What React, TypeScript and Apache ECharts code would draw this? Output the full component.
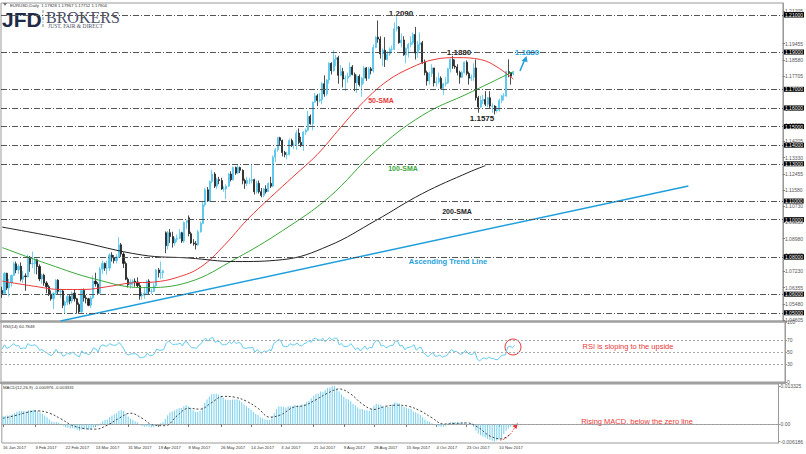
import React, { useEffect, useRef } from "react";
import * as echarts from "echarts";

const N_SLOTS = 335;
const TICK_INDEX = [0, 14, 27, 40, 54, 67, 80, 94, 107, 120, 134, 147, 160, 174, 187, 200, 214];
const TICK_LABELS = [
  "16 Jan 2017", "3 Feb 2017", "22 Feb 2017", "13 Mar 2017", "31 Mar 2017", "19 Apr 2017",
  "8 May 2017", "26 May 2017", "14 Jun 2017", "3 Jul 2017", "21 Jul 2017", "9 Aug 2017",
  "28 Aug 2017", "15 Sep 2017", "4 Oct 2017", "23 Oct 2017", "10 Nov 2017",
];

// [open, close, low, high]
const CANDLES: number[][] = [
  [1.0620,1.0603,1.0580,1.0640],[1.0603,1.0712,1.0600,1.0718],[1.0712,1.0633,1.0622,1.0715],[1.0633,1.0661,1.0587,1.0683],[1.0661,1.0700,1.0640,1.0706],
  [1.0700,1.0763,1.0698,1.0774],[1.0763,1.0730,1.0712,1.0775],[1.0730,1.0750,1.0708,1.0760],[1.0750,1.0680,1.0668,1.0770],[1.0680,1.0698,1.0660,1.0725],
  [1.0698,1.0694,1.0618,1.0712],[1.0694,1.0798,1.0690,1.0812],[1.0798,1.0763,1.0720,1.0805],[1.0763,1.0764,1.0740,1.0829],[1.0764,1.0785,1.0710,1.0800],
  [1.0785,1.0749,1.0706,1.0790],[1.0749,1.0682,1.0670,1.0760],[1.0682,1.0702,1.0655,1.0710],[1.0702,1.0660,1.0645,1.0710],[1.0660,1.0640,1.0605,1.0670],
  [1.0640,1.0600,1.0590,1.0650],[1.0600,1.0575,1.0565,1.0620],[1.0575,1.0605,1.0520,1.0610],[1.0605,1.0675,1.0595,1.0680],[1.0675,1.0615,1.0600,1.0680],
  [1.0615,1.0617,1.0580,1.0630],[1.0617,1.0540,1.0525,1.0625],[1.0540,1.0557,1.0494,1.0565],[1.0557,1.0587,1.0540,1.0600],[1.0587,1.0563,1.0545,1.0600],
  [1.0563,1.0605,1.0550,1.0615],[1.0605,1.0575,1.0560,1.0625],[1.0575,1.0545,1.0495,1.0580],[1.0545,1.0505,1.0495,1.0555],[1.0505,1.0620,1.0500,1.0630],
  [1.0620,1.0580,1.0560,1.0630],[1.0580,1.0575,1.0550,1.0595],[1.0575,1.0540,1.0535,1.0580],[1.0540,1.0580,1.0525,1.0590],[1.0580,1.0670,1.0575,1.0700],
  [1.0670,1.0655,1.0640,1.0715],[1.0655,1.0605,1.0600,1.0665],[1.0605,1.0735,1.0600,1.0745],[1.0735,1.0765,1.0710,1.0780],[1.0765,1.0740,1.0725,1.0770],
  [1.0740,1.0740,1.0705,1.0780],[1.0740,1.0810,1.0725,1.0820],[1.0810,1.0795,1.0775,1.0825],[1.0795,1.0780,1.0765,1.0810],[1.0780,1.0800,1.0765,1.0815],
  [1.0800,1.0865,1.0795,1.0906],[1.0865,1.0815,1.0800,1.0875],[1.0815,1.0765,1.0740,1.0825],[1.0765,1.0680,1.0675,1.0775],[1.0680,1.0650,1.0635,1.0690],
  [1.0650,1.0665,1.0630,1.0680],[1.0665,1.0670,1.0645,1.0680],[1.0670,1.0665,1.0640,1.0685],[1.0665,1.0645,1.0635,1.0690],[1.0645,1.0590,1.0570,1.0660],
  [1.0590,1.0595,1.0570,1.0610],[1.0595,1.0605,1.0575,1.0640],[1.0605,1.0670,1.0600,1.0675],[1.0670,1.0615,1.0600,1.0680],[1.0615,1.0615,1.0600,1.0630],
  [1.0615,1.0645,1.0610,1.0660],[1.0645,1.0730,1.0640,1.0735],[1.0730,1.0715,1.0690,1.0740],[1.0715,1.0715,1.0680,1.0775],[1.0715,1.0725,1.0685,1.0730],
  [1.0930,1.0860,1.0820,1.0937],[1.0860,1.0930,1.0840,1.0940],[1.0930,1.0910,1.0875,1.0950],[1.0910,1.0875,1.0850,1.0935],[1.0875,1.0895,1.0860,1.0905],
  [1.0895,1.0900,1.0880,1.0920],[1.0900,1.0930,1.0895,1.0950],[1.0930,1.0885,1.0875,1.0935],[1.0885,1.0985,1.0875,1.0990],[1.0985,1.0995,1.0950,1.0995],
  [1.1010,1.0925,1.0910,1.1023],[1.0925,1.0875,1.0870,1.0935],[1.0875,1.0870,1.0860,1.0895],[1.0870,1.0865,1.0840,1.0885],[1.0865,1.0935,1.0860,1.0945],
  [1.0935,1.0980,1.0930,1.0990],[1.0980,1.1080,1.0975,1.1100],[1.1080,1.1160,1.1070,1.1170],[1.1160,1.1100,1.1095,1.1175],[1.1100,1.1205,1.1095,1.1210],
  [1.1205,1.1245,1.1195,1.1268],[1.1245,1.1180,1.1170,1.1255],[1.1180,1.1215,1.1165,1.1225],[1.1215,1.1210,1.1190,1.1230],[1.1210,1.1165,1.1160,1.1225],
  [1.1165,1.1165,1.1150,1.1180],[1.1165,1.1180,1.1110,1.1190],[1.1180,1.1245,1.1175,1.1250],[1.1245,1.1215,1.1205,1.1260],[1.1215,1.1280,1.1210,1.1285],
  [1.1280,1.1250,1.1240,1.1285],[1.1250,1.1280,1.1245,1.1295],[1.1280,1.1265,1.1250,1.1285],[1.1265,1.1210,1.1190,1.1270],[1.1210,1.1195,1.1165,1.1220],
  [1.1195,1.1210,1.1180,1.1230],[1.1210,1.1210,1.1190,1.1225],[1.1210,1.1215,1.1195,1.1295],[1.1215,1.1150,1.1135,1.1220],[1.1150,1.1195,1.1140,1.1210],
  [1.1195,1.1150,1.1140,1.1210],[1.1150,1.1130,1.1120,1.1170],[1.1130,1.1165,1.1120,1.1170],[1.1165,1.1150,1.1140,1.1185],[1.1150,1.1195,1.1150,1.1200],
  [1.1195,1.1180,1.1170,1.1230],[1.1180,1.1335,1.1175,1.1345],[1.1335,1.1375,1.1310,1.1385],[1.1375,1.1440,1.1365,1.1445],[1.1440,1.1425,1.1395,1.1445],
  [1.1425,1.1360,1.1340,1.1430],[1.1360,1.1350,1.1335,1.1370],[1.1350,1.1350,1.1325,1.1365],[1.1350,1.1425,1.1345,1.1435],[1.1425,1.1400,1.1390,1.1435],
  [1.1400,1.1400,1.1380,1.1415],[1.1400,1.1465,1.1375,1.1480],[1.1465,1.1415,1.1405,1.1490],[1.1415,1.1400,1.1390,1.1445],[1.1400,1.1470,1.1370,1.1475],
  [1.1470,1.1480,1.1455,1.1490],[1.1480,1.1555,1.1475,1.1585],[1.1555,1.1515,1.1510,1.1565],[1.1515,1.1630,1.1480,1.1635],[1.1630,1.1665,1.1630,1.1680],
  [1.1665,1.1640,1.1610,1.1675],[1.1640,1.1645,1.1630,1.1680],[1.1645,1.1730,1.1620,1.1740],[1.1730,1.1675,1.1660,1.1775],[1.1675,1.1750,1.1665,1.1755],
  [1.1750,1.1840,1.1730,1.1845],[1.1840,1.1800,1.1780,1.1845],[1.1800,1.1860,1.1795,1.1910],[1.1860,1.1870,1.1825,1.1885],[1.1870,1.1775,1.1730,1.1880],
  [1.1775,1.1795,1.1770,1.1830],[1.1795,1.1755,1.1710,1.1815],[1.1755,1.1760,1.1690,1.1775],[1.1760,1.1770,1.1735,1.1790],[1.1770,1.1820,1.1765,1.1845],
  [1.1820,1.1780,1.1775,1.1830],[1.1780,1.1735,1.1690,1.1790],[1.1735,1.1770,1.1680,1.1780],[1.1770,1.1725,1.1715,1.1780],[1.1725,1.1760,1.1660,1.1765],
  [1.1760,1.1815,1.1730,1.1825],[1.1815,1.1760,1.1745,1.1820],[1.1760,1.1810,1.1755,1.1820],[1.1810,1.1800,1.1780,1.1820],[1.1800,1.1925,1.1790,1.1940],
  [1.1925,1.1980,1.1920,1.1985],[1.1980,1.1970,1.1950,1.2070],[1.1970,1.1890,1.1865,1.1985],[1.1890,1.1910,1.1825,1.1920],[1.1910,1.1860,1.1820,1.1980],
  [1.1860,1.1890,1.1855,1.1905],[1.1890,1.1915,1.1880,1.1925],[1.1915,1.1915,1.1895,1.1935],[1.1915,1.2025,1.1910,1.2060],[1.2025,1.2035,1.2010,1.2092],
  [1.2035,1.1950,1.1945,1.2040],[1.1950,1.1965,1.1925,1.2000],[1.1965,1.1885,1.1880,1.1985],[1.1885,1.1920,1.1840,1.1925],[1.1920,1.1940,1.1870,1.1950],
  [1.1940,1.1950,1.1925,1.1985],[1.1950,1.1995,1.1940,1.2005],[1.1995,1.1895,1.1860,1.2035],[1.1895,1.1940,1.1870,1.1960],[1.1940,1.1950,1.1910,1.2005],
  [1.1950,1.1845,1.1835,1.1960],[1.1845,1.1790,1.1775,1.1860],[1.1790,1.1745,1.1720,1.1800],[1.1745,1.1785,1.1725,1.1795],[1.1785,1.1815,1.1765,1.1835],
  [1.1815,1.1735,1.1715,1.1815],[1.1735,1.1740,1.1715,1.1765],[1.1740,1.1760,1.1730,1.1790],[1.1760,1.1705,1.1700,1.1770],[1.1705,1.1730,1.1670,1.1735],
  [1.1730,1.1735,1.1715,1.1765],[1.1735,1.1810,1.1730,1.1815],[1.1810,1.1860,1.1790,1.1865],[1.1860,1.1825,1.1810,1.1880],[1.1825,1.1820,1.1810,1.1860],
  [1.1820,1.1790,1.1775,1.1835],[1.1790,1.1765,1.1730,1.1800],[1.1765,1.1790,1.1760,1.1800],[1.1790,1.1845,1.1785,1.1850],[1.1845,1.1785,1.1775,1.1855],
  [1.1785,1.1760,1.1725,1.1795],[1.1760,1.1765,1.1745,1.1780],[1.1765,1.1815,1.1745,1.1840],[1.1815,1.1655,1.1640,1.1860],[1.1655,1.1605,1.1574,1.1665],
  [1.1605,1.1640,1.1600,1.1665],[1.1640,1.1645,1.1620,1.1670],[1.1645,1.1620,1.1610,1.1690],[1.1620,1.1655,1.1605,1.1660],[1.1655,1.1610,1.1600,1.1690],
  [1.1610,1.1610,1.1575,1.1625],[1.1610,1.1585,1.1565,1.1615],[1.1585,1.1590,1.1575,1.1610],[1.1590,1.1640,1.1580,1.1650],[1.1640,1.1665,1.1625,1.1670],
  [1.1665,1.1665,1.1640,1.1680],[1.1665,1.1795,1.1660,1.1800],[1.1795,1.1790,1.1765,1.1861],[1.1790,1.1770,1.1725,1.1790],[1.17828,1.17904,1.17752,1.17967],
];

// moving averages: [bar index, price]
const SMA50 = [[0,1.0670],[15,1.0640],[25,1.0625],[35,1.0625],[45,1.0640],[55,1.0660],[65,1.0665],[75,1.0690],[85,1.0745],[95,1.0860],[105,1.1000],[115,1.1120],[125,1.1235],[135,1.1350],[145,1.1495],[155,1.1635],[165,1.1745],[175,1.1815],[185,1.1860],[195,1.1870],[205,1.1860],[212,1.1820],[219,1.1755]];
const SMA100 = [[0,1.0850],[20,1.0760],[40,1.0680],[60,1.0635],[80,1.0665],[100,1.0790],[120,1.0940],[140,1.1120],[160,1.1370],[180,1.1560],[200,1.1680],[219,1.1795]];
const SMA200 = [[0,1.0960],[30,1.0890],[60,1.0810],[80,1.0794],[100,1.0775],[120,1.0785],[140,1.0860],[160,1.0995],[180,1.1140],[200,1.1255],[207,1.1290]];
const TREND_LINE = [[24.7,1.04558],[293.9,1.11808]];

const LEVELS = [1.209, 1.2055, 1.188, 1.169, 1.1575, 1.149, 1.137, 1.13, 1.111, 1.102, 1.084, 1.078, 1.057, 1.052];
const LAST_PRICE = 1.17904;
const PRICE_TICKS = [1.21205,1.19455,1.1858,1.17705,1.15955,1.1508,1.14205,1.1333,1.12455,1.1158,1.1073,1.09855,1.0898,1.08105,1.0723,1.06355,1.0548,1.04605];
const PRICE_MIN = 1.04558;
const PRICE_MAX = 1.21635;

const RSI = [
  55,62,56,58,61,64,60,61,55,57, 56,64,61,61,62,59,53,54,51,49,
  46,44,48,54,49,49,43,45,48,46, 50,47,44,42,52,48,48,45,49,57,
  55,50,60,62,60,60,64,62,61,62, 66,61,55,47,45,47,47,47,45,40,
  41,42,48,44,44,47,55,53,53,54, 64,68,66,62,63,63,65,60,67,67,
  61,57,57,56,61,64,70,73,68,73, 74,66,68,67,62,62,63,67,64,68,
  64,66,64,57,56,57,57,58,50,54, 50,48,52,50,54,52,64,67,71,69,
  60,59,59,64,62,62,65,61,60,64, 65,69,66,72,73,70,70,73,67,71,
  74,70,73,73,62,64,59,59,60,64, 59,54,57,52,55,60,54,58,57,66,
  69,68,60,61,57,59,61,61,68,68, 60,61,54,57,58,59,62,53,57,58,
  49,45,42,46,49,43,43,45,41,43, 44,50,54,51,51,48,46,48,53,48,
  46,46,51,38,35,39,40,38,42,39, 39,37,38,43,45,45,58,60,57,60.7848,
];
const RSI_LEVELS = [30, 50, 70];

const MACD_MAIN = [
  0.0028,0.0029,0.0030,0.0031,0.0034,0.0039,0.0043,0.0046,0.0046,0.0046,
  0.0044,0.0048,0.0049,0.0049,0.0049,0.0046,0.0040,0.0036,0.0030,0.0024,
  0.0016,0.0009,0.0006,0.0007,0.0004,0.0001,-0.0006,-0.0011,-0.0013,-0.0016,
  -0.0015,-0.0016,-0.0019,-0.0024,-0.0019,-0.0018,-0.0018,-0.0020,-0.0019,-0.0012,
  -0.0008,-0.0007,0.0002,0.0010,0.0014,0.0016,0.0024,0.0030,0.0034,0.0038,
  0.0046,0.0048,0.0046,0.0036,0.0026,0.0019,0.0014,0.0010,0.0006,-0.0002,
  -0.0007,-0.0010,-0.0008,-0.0010,-0.0012,-0.0011,-0.0004,0.0000,0.0003,0.0006,
  0.0018,0.0031,0.0040,0.0044,0.0048,0.0052,0.0056,0.0056,0.0062,0.0066,
  0.0062,0.0054,0.0048,0.0042,0.0043,0.0046,0.0058,0.0074,0.0086,0.0096,
  0.0104,0.0106,0.0106,0.0103,0.0098,0.0092,0.0086,0.0085,0.0084,0.0086,
  0.0086,0.0086,0.0083,0.0076,0.0068,0.0062,0.0056,0.0050,0.0042,0.0036,
  0.0032,0.0024,0.0020,0.0016,0.0016,0.0014,0.0026,0.0038,0.0052,0.0062,
  0.0062,0.0060,0.0058,0.0062,0.0063,0.0063,0.0067,0.0066,0.0064,0.0068,
  0.0070,0.0078,0.0081,0.0090,0.0099,0.0104,0.0107,0.0114,0.0113,0.0118,
  0.0126,0.0128,0.0133,0.013325,0.0122,0.0114,0.0104,0.0096,0.0089,0.0086,
  0.0080,0.0071,0.0066,0.0058,0.0053,0.0053,0.0048,0.0048,0.0046,0.0054,
  0.0064,0.0070,0.0068,0.0067,0.0061,0.0060,0.0060,0.0060,0.0069,0.0076,
  0.0074,0.0072,0.0064,0.0060,0.0057,0.0054,0.0053,0.0044,0.0040,0.0037,
  0.0032,0.0024,0.0016,0.0010,0.0008,0.0003,-0.0002,-0.0004,-0.0009,-0.0010,
  -0.0010,-0.0006,0.0002,0.0006,0.0008,0.0007,0.0005,0.0004,0.0006,0.0004,
  0.0002,-0.0001,0.0002,-0.0010,-0.0024,-0.0033,-0.0039,-0.0044,-0.0047,-0.0052,
  -0.0055,-0.0059,-0.006186,-0.0058,-0.0054,-0.0050,-0.0035,-0.0024,-0.0016,-0.000976,
];
const MACD_SIGNAL = [[0,0.0020],[5,0.0029],[10,0.0040],[15,0.0046],[20,0.0038],[25,0.0018],[30,-0.0005],[35,-0.0016],[40,-0.0018],[45,-0.0004],[50,0.0020],[55,0.0038],[60,0.0020],[65,-0.0004],[70,-0.0006],[75,0.0028],[80,0.0055],[85,0.0052],[90,0.0075],[95,0.0097],[100,0.0094],[105,0.0080],[110,0.0055],[115,0.0024],[120,0.0033],[125,0.0058],[130,0.0065],[135,0.0085],[140,0.0108],[145,0.0123],[150,0.0105],[155,0.0070],[160,0.0051],[165,0.0062],[170,0.0066],[175,0.0062],[180,0.0046],[185,0.0022],[190,0.0000],[195,0.0002],[200,0.0004],[205,-0.0012],[210,-0.0042],[215,-0.0052],[219,-0.003331]];
const MACD_TICKS = [-0.006186, 0, 0.013325];

const FONT = "Liberation Sans";
const RED = "#e8393a";
const BLUE = "#1e9fdc";
const GREEN = "#3aa83a";

export default function App() {
  const ref = useRef<HTMLDivElement>(null);
  useEffect(() => {
    if (!ref.current) return;
    const chart = echarts.init(ref.current, null, { renderer: "svg" });
    const cats = Array.from({ length: N_SLOTS }, (_, i) => String(i));
    const tickSet = new Set(TICK_INDEX);
    const grids = [
      { left: 1, right: 21, top: 3, height: 318 },
      { left: 1, right: 21, top: 322, height: 60 },
      { left: 1, right: 21, top: 384, height: 59 },
    ].map((g) => ({ ...g, show: true, borderColor: "#9a9a9a", borderWidth: 1 }));

    const xAxes = [0, 1, 2].map((gi) => ({
      type: "category",
      gridIndex: gi,
      data: cats,
      boundaryGap: true,
      axisLine: { show: gi === 2, lineStyle: { color: "#9a9a9a" } },
      axisTick: {
        show: gi === 2,
        alignWithLabel: true,
        interval: (i: number) => tickSet.has(i),
        length: 3,
        lineStyle: { color: "#777" },
      },
      axisLabel: {
        show: gi === 2,
        interval: (i: number) => tickSet.has(i),
        formatter: (_v: string, i: number) => TICK_LABELS[TICK_INDEX.indexOf(i)] ?? "",
        align: "left",
        margin: 2,
        fontSize: 4.2,
        fontFamily: FONT,
        color: "#333",
      },
      splitLine: { show: false },
    }));

    const yLabel = { fontSize: 5, fontFamily: FONT, color: "#555", margin: 2 };
    const yAxes = [
      {
        type: "value", gridIndex: 0, position: "right", min: PRICE_MIN, max: PRICE_MAX,
        axisLine: { show: true, lineStyle: { color: "#9a9a9a" } },
        axisTick: { show: true, length: 2, customValues: PRICE_TICKS, lineStyle: { color: "#777" } },
        axisLabel: { ...yLabel, customValues: PRICE_TICKS, formatter: (v: number) => v.toFixed(5) },
        splitLine: { show: false },
      },
      {
        type: "value", gridIndex: 1, position: "right", min: 0, max: 100,
        axisLine: { show: true, lineStyle: { color: "#9a9a9a" } },
        axisTick: { show: true, length: 2, customValues: [0, 30, 50, 70, 100] },
        axisLabel: { ...yLabel, customValues: [0, 30, 50, 70, 100], verticalAlign: "middle" },
        splitLine: { show: false },
      },
      {
        type: "value", gridIndex: 2, position: "right", min: -0.00666, max: 0.01403,
        axisLine: { show: true, lineStyle: { color: "#9a9a9a" } },
        axisTick: { show: true, length: 2, customValues: MACD_TICKS },
        axisLabel: { ...yLabel, customValues: MACD_TICKS, formatter: (v: number) => (v === 0 ? "0.00" : v.toFixed(6)) },
        splitLine: { show: false },
      },
    ];

    const boxLabel = {
      show: true, position: "end", distance: 1, fontSize: 5, fontFamily: FONT,
      color: "#fff", backgroundColor: "#000", padding: [0, 1, 0, 1], lineHeight: 5,
      formatter: (p: any) => Number(p.value).toFixed(5),
    };

    const tx = (text: string, x: number, y: number, fill: string, size: number, weight = "bold", align = "center") => ({
      type: "text", x, y, silent: true,
      style: { text, fill, fontSize: size, fontWeight: weight, fontFamily: FONT, align, verticalAlign: "middle" },
    });

    chart.setOption({
      animation: false,
      backgroundColor: "#fff",
      grid: grids,
      xAxis: xAxes,
      yAxis: yAxes,
      series: [
        {
          type: "candlestick", name: "EURUSD", xAxisIndex: 0, yAxisIndex: 0, data: CANDLES, barWidth: 1.6,
          itemStyle: { color: "#4fc3ec", color0: "#1e1e1e", borderColor: "#4fc3ec", borderColor0: "#1e1e1e", borderWidth: 0.8 },
          markLine: {
            silent: true, symbol: "none", animation: false,
            lineStyle: { color: "#555", width: 1, type: [6, 2, 1, 2] },
            label: boxLabel,
            data: [
              ...LEVELS.map((v) => ({ yAxis: v })),
              { yAxis: LAST_PRICE, lineStyle: { opacity: 0 } },
            ],
          },
          z: 3,
        },
        { type: "line", xAxisIndex: 0, yAxisIndex: 0, data: SMA50, smooth: 0.4, symbol: "none", lineStyle: { color: RED, width: 1 }, z: 4 },
        { type: "line", xAxisIndex: 0, yAxisIndex: 0, data: SMA100, smooth: 0.4, symbol: "none", lineStyle: { color: GREEN, width: 1 }, z: 4 },
        { type: "line", xAxisIndex: 0, yAxisIndex: 0, data: SMA200, smooth: 0.4, symbol: "none", lineStyle: { color: "#222", width: 1 }, z: 4 },
        { type: "line", xAxisIndex: 0, yAxisIndex: 0, data: TREND_LINE, symbol: "none", lineStyle: { color: BLUE, width: 1.5 }, z: 4 },
        {
          type: "line", xAxisIndex: 1, yAxisIndex: 1, data: RSI, symbol: "none", lineStyle: { color: "#63cbee", width: 1 },
          markLine: {
            silent: true, symbol: "none", label: { show: false },
            lineStyle: { color: "#aaa", width: 1, type: [2, 2] },
            data: RSI_LEVELS.map((v) => ({ yAxis: v })),
          },
        },
        {
          type: "bar", xAxisIndex: 2, yAxisIndex: 2, data: MACD_MAIN, barWidth: 1.1, itemStyle: { color: "#7fd3ef" },
          markLine: {
            silent: true, symbol: "none", label: { show: false },
            lineStyle: { color: "#aaa", width: 1, type: [2, 2] },
            data: [{ yAxis: 0 }],
          },
        },
        { type: "line", xAxisIndex: 2, yAxisIndex: 2, data: MACD_SIGNAL, smooth: 0.4, symbol: "none", lineStyle: { color: "#444", width: 1, type: [2, 2] } },
      ],
      graphic: [
        { type: "rect", shape: { x: 0, y: 320.5, width: 786, height: 2 }, style: { fill: "#a0a0a0" }, silent: true },
        { type: "rect", shape: { x: 0, y: 382, width: 786, height: 2 }, style: { fill: "#a0a0a0" }, silent: true },
        // header
        { type: "polygon", shape: { points: [[3, 3], [7, 3], [5, 6]] }, style: { fill: "#777" }, silent: true },
        tx("EURUSD,Daily  1.17828 1.17967 1.17752 1.17904", 10, 5, "#333", 4.3, "normal", "left"),
        // logo
        tx("JFD", 2, 19, "#1f2b48", 21, "bold", "left"),
        { type: "line", shape: { x1: 43, y1: 10, x2: 43, y2: 28 }, style: { stroke: "#8a8a8a", lineWidth: 1, lineDash: [3, 1.5, 1, 1.5] }, silent: true },
        { type: "text", x: 46, y: 17, silent: true, style: { text: "BROKERS", fill: "#4b5066", fontSize: 16, fontFamily: "Liberation Serif", align: "left", verticalAlign: "middle" } },
        { type: "text", x: 48, y: 26, silent: true, style: { text: "JUST, FAIR & DIRECT", fill: "#4b5066", fontSize: 5.6, fontFamily: "Liberation Serif", align: "left", verticalAlign: "middle" } },
        // panel labels
        tx("RSI(14) 60.7848", 3, 326, "#333", 4.3, "normal", "left"),
        tx("MACD(12,26,9) -0.000976 -0.003331", 3, 387, "#333", 4.3, "normal", "left"),
        // annotations
        tx("1.2090", 401, 13, "#222", 8),
        tx("1.1880", 459, 52, "#222", 8),
        tx("1.1880", 527, 52, BLUE, 8),
        tx("1.1575", 482, 118, "#222", 8),
        tx("50-SMA", 381, 100, RED, 7),
        tx("100-SMA", 403, 168, GREEN, 7),
        tx("200-SMA", 457, 211, "#222", 7),
        tx("Ascending Trend Line", 448, 261, BLUE, 7.5),
        tx("RSI is sloping to the upside", 628, 346, RED, 7.5, "normal"),
        tx("Rising MACD, below the zero line", 637, 421, RED, 7.5, "normal"),
        { type: "line", shape: { x1: 520, y1: 71, x2: 524.5, y2: 60 }, style: { stroke: BLUE, lineWidth: 1.5 }, silent: true },
        { type: "polygon", shape: { points: [[526.5, 56], [521.5, 61], [527.5, 62]] }, style: { fill: BLUE }, silent: true },
        { type: "circle", shape: { cx: 513, cy: 347, r: 8 }, style: { fill: "none", stroke: RED, lineWidth: 1 }, silent: true },
        { type: "bezierCurve", shape: { x1: 500, y1: 440, x2: 515, y2: 427, cpx1: 508, cpy1: 440 }, style: { fill: "none", stroke: RED, lineWidth: 1, lineDash: [1.5, 1.5] }, silent: true },
        { type: "polygon", shape: { points: [[518, 423], [512.5, 426], [516.5, 429]] }, style: { fill: RED }, silent: true },
      ],
    });
    return () => chart.dispose();
  }, []);
  return <div ref={ref} style={{ position: "fixed", left: 0, top: 0, width: 806, height: 454, background: "#fff" }} />;
}
